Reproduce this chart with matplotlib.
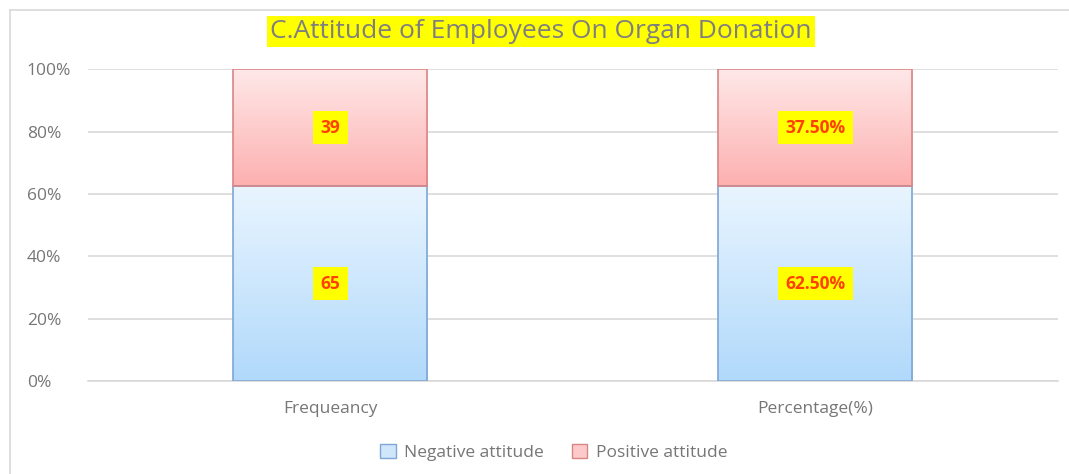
import numpy as np
import matplotlib
matplotlib.use("Agg")
import matplotlib.pyplot as plt
from matplotlib.patches import Rectangle
from matplotlib.lines import Line2D
from matplotlib.colors import LinearSegmentedColormap

categories = ["Frequeancy", "Percentage(%)"]
negative_vals = [65, 62.5]
positive_vals = [39, 37.5]
negative_labels = ["65", "62.50%"]
positive_labels = ["39", "37.50%"]
series_names = ["Negative attitude", "Positive attitude"]
yticks = [0, 20, 40, 60, 80, 100]

plt.rcParams['font.family'] = ['Open Sans', 'DejaVu Sans']

fig = plt.figure(figsize=(10.69, 4.74), dpi=100)
ax = fig.add_axes([0.0823, 0.196, 0.9074, 0.658])

neg = np.array(negative_vals, dtype=float)
pos = np.array(positive_vals, dtype=float)
tot = neg + pos
neg_pct = neg / tot * 100
pos_pct = pos / tot * 100
x = np.arange(len(categories))
w = 0.4

blue_cmap = LinearSegmentedColormap.from_list("b", ["#b1d9fb", "#e9f5ff"])
red_cmap = LinearSegmentedColormap.from_list("r", ["#fdb0b0", "#ffe8e8"])

bars_neg = ax.bar(x, neg_pct, w, color="none", edgecolor="#7ea6d6", linewidth=1.2, zorder=3)
bars_pos = ax.bar(x, pos_pct, w, bottom=neg_pct, color="none", edgecolor="#d98585", linewidth=1.2, zorder=3)

grad = np.linspace(0, 1, 256).reshape(-1, 1)
for bars, cmap in ((bars_neg, blue_cmap), (bars_pos, red_cmap)):
    for b in bars:
        x0, y0 = b.get_x(), b.get_y()
        bw, bh = b.get_width(), b.get_height()
        im = ax.imshow(grad, cmap=cmap, origin="lower", aspect="auto",
                       extent=[x0, x0 + bw, y0, y0 + bh], zorder=2)
        im.set_clip_path(b)

lab_kw = dict(ha="center", va="center", fontsize=12.5, fontweight="bold", color="#ff4000",
              zorder=5, bbox=dict(boxstyle="square,pad=0.45", fc="#ffff00", ec="none"))
for i in range(len(categories)):
    ax.text(x[i], neg_pct[i] / 2, negative_labels[i], **lab_kw)
    ax.text(x[i], neg_pct[i] + pos_pct[i] / 2, positive_labels[i], **lab_kw)

ax.set_xlim(-0.5, 1.5)
ax.set_ylim(0, 100)
ax.set_yticks(yticks)
ax.set_yticklabels([f"{t}%" for t in yticks])
ax.set_xticks(x)
ax.set_xticklabels(categories)
ax.tick_params(axis="both", length=0, colors="#767676", labelsize=12.5)
ax.tick_params(axis="x", pad=14)
for lbl in ax.get_yticklabels():
    lbl.set_horizontalalignment("left")
ax.tick_params(axis="y", pad=44)
ax.grid(axis="y", color="#d9d9d9", linewidth=1.2, zorder=0)
ax.set_axisbelow(True)
for s in ax.spines.values():
    s.set_visible(False)
ax.spines["bottom"].set_visible(True)
ax.spines["bottom"].set_color("#d9d9d9")
ax.spines["bottom"].set_linewidth(1.2)

fig.text(0.5063, 0.934, "C.Attitude of Employees On Organ Donation", ha="center", va="center",
         fontsize=19, color="#7f7f7f",
         bbox=dict(boxstyle="square,pad=0.12", fc="#ffff00", ec="none"))

handles = [Rectangle((0, 0), 1, 1, fc="#cfe6fb", ec="#7ea6d6"),
           Rectangle((0, 0), 1, 1, fc="#fccaca", ec="#d98585")]
fig.legend(handles, series_names, loc="center", bbox_to_anchor=(0.518, 0.046), ncol=2,
           frameon=False, fontsize=12.5, labelcolor="#767676", handlelength=0.9,
           handleheight=0.9, columnspacing=1.6, handletextpad=0.5)

# outer frame (left and top edges visible)
fig.add_artist(Line2D([10 / 1069, 10 / 1069], [0, 1 - 10 / 474], transform=fig.transFigure,
                      color="#d9d9d9", lw=1.2))
fig.add_artist(Line2D([10 / 1069, 1], [1 - 10 / 474, 1 - 10 / 474], transform=fig.transFigure,
                      color="#d9d9d9", lw=1.2))

fig.savefig("out.png", dpi=100)
